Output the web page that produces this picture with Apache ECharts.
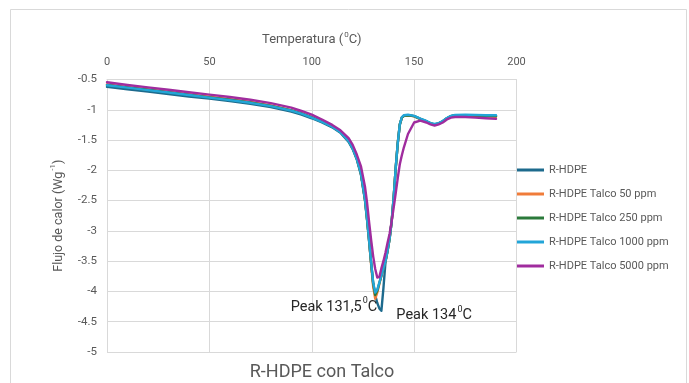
<!DOCTYPE html>
<html>
<head>
<meta charset="utf-8">
<script src="https://cdn.jsdelivr.net/npm/echarts@6/dist/echarts.min.js"></script>
<style>
  html, body { margin: 0; padding: 0; background: #fff; }
  #chart { width: 689px; height: 383px; }
</style>
</head>
<body>
<div id="chart"></div>
<script>
// DSC melting curves of recycled HDPE with talc (heat flow vs temperature)
const temps = [0,10,20,30,40,50,60,70,80,90,95,100,105,110,114,118,120,122,124,126,127,128,129,130,131,132,133,134,135,136,137,138,139,140,141,142,143,144,145,147,150,153,156,158,160,162,164,166,168,170,175,180,185,190];

const seriesNames = ['R-HDPE', 'R-HDPE Talco 50 ppm', 'R-HDPE Talco 250 ppm', 'R-HDPE Talco 1000 ppm', 'R-HDPE Talco 5000 ppm'];

const rHdpe = [-0.62,-0.66,-0.70,-0.74,-0.78,-0.815,-0.855,-0.90,-0.955,-1.03,-1.08,-1.14,-1.21,-1.29,-1.38,-1.53,-1.65,-1.82,-2.07,-2.50,-2.82,-3.17,-3.53,-3.87,-4.06,-4.19,-4.28,-4.32,-3.95,-3.52,-3.34,-3.14,-2.86,-2.46,-1.97,-1.56,-1.25,-1.13,-1.10,-1.09,-1.105,-1.15,-1.19,-1.225,-1.24,-1.225,-1.19,-1.14,-1.105,-1.09,-1.09,-1.095,-1.10,-1.10];

const talco50 = [-0.58,-0.625,-0.665,-0.705,-0.745,-0.785,-0.825,-0.87,-0.93,-1.005,-1.055,-1.12,-1.19,-1.27,-1.36,-1.51,-1.63,-1.80,-2.05,-2.48,-2.80,-3.16,-3.56,-3.92,-4.12,-4.02,-3.88,-3.75,-3.62,-3.50,-3.33,-3.13,-2.85,-2.45,-1.96,-1.55,-1.24,-1.13,-1.10,-1.09,-1.11,-1.155,-1.195,-1.23,-1.245,-1.23,-1.195,-1.15,-1.115,-1.10,-1.10,-1.105,-1.11,-1.115];

const talco250 = [-0.59,-0.63,-0.67,-0.71,-0.75,-0.795,-0.835,-0.88,-0.935,-1.01,-1.06,-1.125,-1.195,-1.275,-1.365,-1.515,-1.635,-1.805,-2.05,-2.48,-2.80,-3.15,-3.53,-3.87,-4.06,-3.99,-3.86,-3.74,-3.62,-3.50,-3.33,-3.13,-2.85,-2.45,-1.96,-1.55,-1.24,-1.13,-1.10,-1.09,-1.105,-1.15,-1.19,-1.225,-1.24,-1.225,-1.19,-1.14,-1.105,-1.09,-1.09,-1.095,-1.10,-1.105];

const talco1000 = [-0.595,-0.635,-0.675,-0.715,-0.755,-0.80,-0.84,-0.885,-0.94,-1.015,-1.065,-1.13,-1.20,-1.28,-1.37,-1.52,-1.64,-1.81,-2.05,-2.48,-2.80,-3.15,-3.52,-3.85,-4.02,-3.97,-3.86,-3.74,-3.62,-3.50,-3.33,-3.13,-2.85,-2.45,-1.96,-1.55,-1.24,-1.12,-1.09,-1.08,-1.10,-1.145,-1.185,-1.22,-1.235,-1.22,-1.185,-1.135,-1.10,-1.085,-1.08,-1.085,-1.09,-1.09];

const talco5000 = [-0.545,-0.59,-0.63,-0.67,-0.71,-0.75,-0.79,-0.835,-0.89,-0.965,-1.02,-1.08,-1.16,-1.25,-1.34,-1.47,-1.58,-1.74,-1.93,-2.27,-2.53,-2.85,-3.15,-3.42,-3.63,-3.77,-3.76,-3.62,-3.50,-3.36,-3.20,-3.05,-2.85,-2.62,-2.38,-2.13,-1.90,-1.75,-1.62,-1.40,-1.21,-1.18,-1.21,-1.24,-1.26,-1.24,-1.21,-1.16,-1.13,-1.12,-1.12,-1.13,-1.14,-1.15];

const seriesValues = [rHdpe, talco50, talco250, talco1000, talco5000];
const seriesColors = ['#1d6a8d', '#f07c3a', '#2b7a3b', '#22a5d8', '#a02c9e'];

const xTicks = { min: 0, max: 200, interval: 50 };
const yTicks = { min: -5, max: -0.5, interval: 0.5 };

// Peak annotations: temperature, heat flow at the minimum, text before the degree sign
const peakLow = { t: 131.5, v: -4.12, text: 'Peak 131,5' };
const peakHdpe = { t: 134, v: -4.32, text: 'Peak 134' };

const FONT = 'Roboto, "Open Sans", sans-serif';
const GREY_TXT = '#595959';
const GRID_CLR = '#d9d9d9';

// rich-text pieces for a raised small character (degree "0", exponent "-1")
function supRich(size, color, lh) {
  return {
    base: { fontSize: size, color: color, fontFamily: FONT, lineHeight: lh, verticalAlign: 'bottom' },
    sup: { fontSize: Math.round(size * 0.62), color: color, fontFamily: FONT, lineHeight: lh, verticalAlign: 'top', padding: [0, 0, 0, 1] }
  };
}

const chart = echarts.init(document.getElementById('chart'), null, { renderer: 'canvas' });

const series = seriesNames.map((name, i) => ({
  name: name,
  type: 'line',
  data: temps.map((t, k) => [t, seriesValues[i][k]]),
  showSymbol: false,
  symbol: 'none',
  smooth: false,
  lineStyle: { color: seriesColors[i], width: 2.4, join: 'round', cap: 'round' },
  itemStyle: { color: seriesColors[i] },
  z: 2 + i
}));

const peakRich = supRich(14.5, '#262626', 18);

// Peak labels anchored at the minima
series[0].markPoint = {
  symbol: 'circle', symbolSize: 0, silent: true, animation: false,
  data: [{
    coord: [peakHdpe.t, peakHdpe.v],
    label: {
      show: true, position: 'right', offset: [10, 3],
      formatter: '{base|' + peakHdpe.text + '}{sup|0}{base|C}',
      rich: peakRich
    }
  }]
};
series[1].markPoint = {
  symbol: 'circle', symbolSize: 0, silent: true, animation: false,
  data: [{
    coord: [peakLow.t, peakLow.v],
    label: {
      show: true, position: 'left', offset: [6, 7],
      formatter: '{base|' + peakLow.text + '}{sup|0}{base|C}',
      rich: peakRich
    }
  }]
};

chart.setOption({
  animation: false,
  backgroundColor: '#ffffff',
  textStyle: { fontFamily: FONT },
  title: {
    text: 'R-HDPE con Talco',
    left: 317, top: 358, textAlign: 'center',
    textStyle: { color: GREY_TXT, fontSize: 18, fontWeight: 'normal', fontFamily: FONT }
  },
  graphic: [{
    type: 'rect', shape: { x: 10.5, y: 9.5, width: 676, height: 380 },
    style: { fill: 'none', stroke: GRID_CLR, lineWidth: 1 }, silent: true, z: -10
  }],
  legend: {
    orient: 'vertical', left: 512, top: 158,
    itemWidth: 27, itemHeight: 3, itemGap: 10,
    icon: 'rect',
    textStyle: { color: GREY_TXT, fontSize: 11, lineHeight: 14, fontFamily: FONT },
    data: seriesNames
  },
  grid: { left: 107, right: 172.5, top: 79.5, bottom: 31, containLabel: false },
  xAxis: {
    type: 'value', position: 'top',
    min: xTicks.min, max: xTicks.max, interval: xTicks.interval,
    name: '{base|Temperatura (}{sup|0}{base|C)}', nameLocation: 'middle', nameGap: 33,
    nameTextStyle: { rich: supRich(13, GREY_TXT, 16) },
    axisLine: { show: true, lineStyle: { color: GRID_CLR } },
    axisTick: { show: false },
    axisLabel: { color: GREY_TXT, fontSize: 11, margin: 12 },
    splitLine: { show: true, lineStyle: { color: GRID_CLR, width: 1 } }
  },
  yAxis: {
    type: 'value',
    min: yTicks.min, max: yTicks.max, interval: yTicks.interval,
    name: '{base|Flujo de calor (Wg}{sup|-1}{base|)}', nameLocation: 'middle', nameGap: 42, nameRotate: 90,
    nameTextStyle: { rich: supRich(12.5, GREY_TXT, 16) },
    axisLine: { show: true, lineStyle: { color: GRID_CLR } },
    axisTick: { show: false },
    axisLabel: { color: GREY_TXT, fontSize: 11.5, margin: 10 },
    splitLine: { show: true, lineStyle: { color: GRID_CLR, width: 1 } }
  },
  series: series
});
</script>
</body>
</html>
